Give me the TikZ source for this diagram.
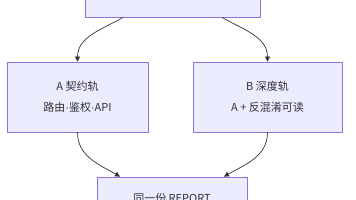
\documentclass[tikz,border=0pt]{standalone}
\usepackage{fontspec}
\newfontfamily\cjk{Noto Sans CJK SC}
\newfontfamily\latin{Liberation Sans}
\usetikzlibrary{arrows.meta}
\definecolor{boxfill}{HTML}{ECECFF}
\definecolor{boxline}{HTML}{9370DB}
\definecolor{ink}{HTML}{333333}
\newcommand{\mdot}{{\latin ·}}
\begin{document}
\begin{tikzpicture}[x=1pt, y=1pt,
            track/.style={rectangle, draw=boxline, fill=boxfill, line width=0.8pt,
                          text=ink, font=\cjk\fontsize{11}{21}\selectfont, align=center,
                          inner sep=0pt},
            flow/.style={draw=ink, line width=0.7pt, -{Triangle[length=5pt, width=5pt]}}
            ]
            \clip (0,0) rectangle (356,200);

            \node[track, minimum width=175pt, minimum height=50pt] (top) at (172.5,208) {};
            \node[track, minimum width=141pt, minimum height=70pt] (trackA) at (77.5,103)
                {A 契约轨\\路由\mdot 鉴权\mdot API};
            \node[track, minimum width=149pt, minimum height=70pt] (trackB) at (267.5,103)
                {B 深度轨\\A + 反混淆可读};
            \node[track, minimum width=150pt, minimum height=42pt] (report) at (172,2)
                {同一份 REPORT};

            \draw[flow] ([xshift=-49.5pt]top.south) to[out=-150, in=90] (trackA.north);
            \draw[flow] ([xshift=49.5pt]top.south) to[out=-30, in=90] (trackB.north);
            \draw[flow] (trackA.south) to[out=-90, in=150] ([xshift=-52pt]report.north);
            \draw[flow] (trackB.south) to[out=-90, in=30] ([xshift=52pt]report.north);

            \end{tikzpicture}
\end{document}
